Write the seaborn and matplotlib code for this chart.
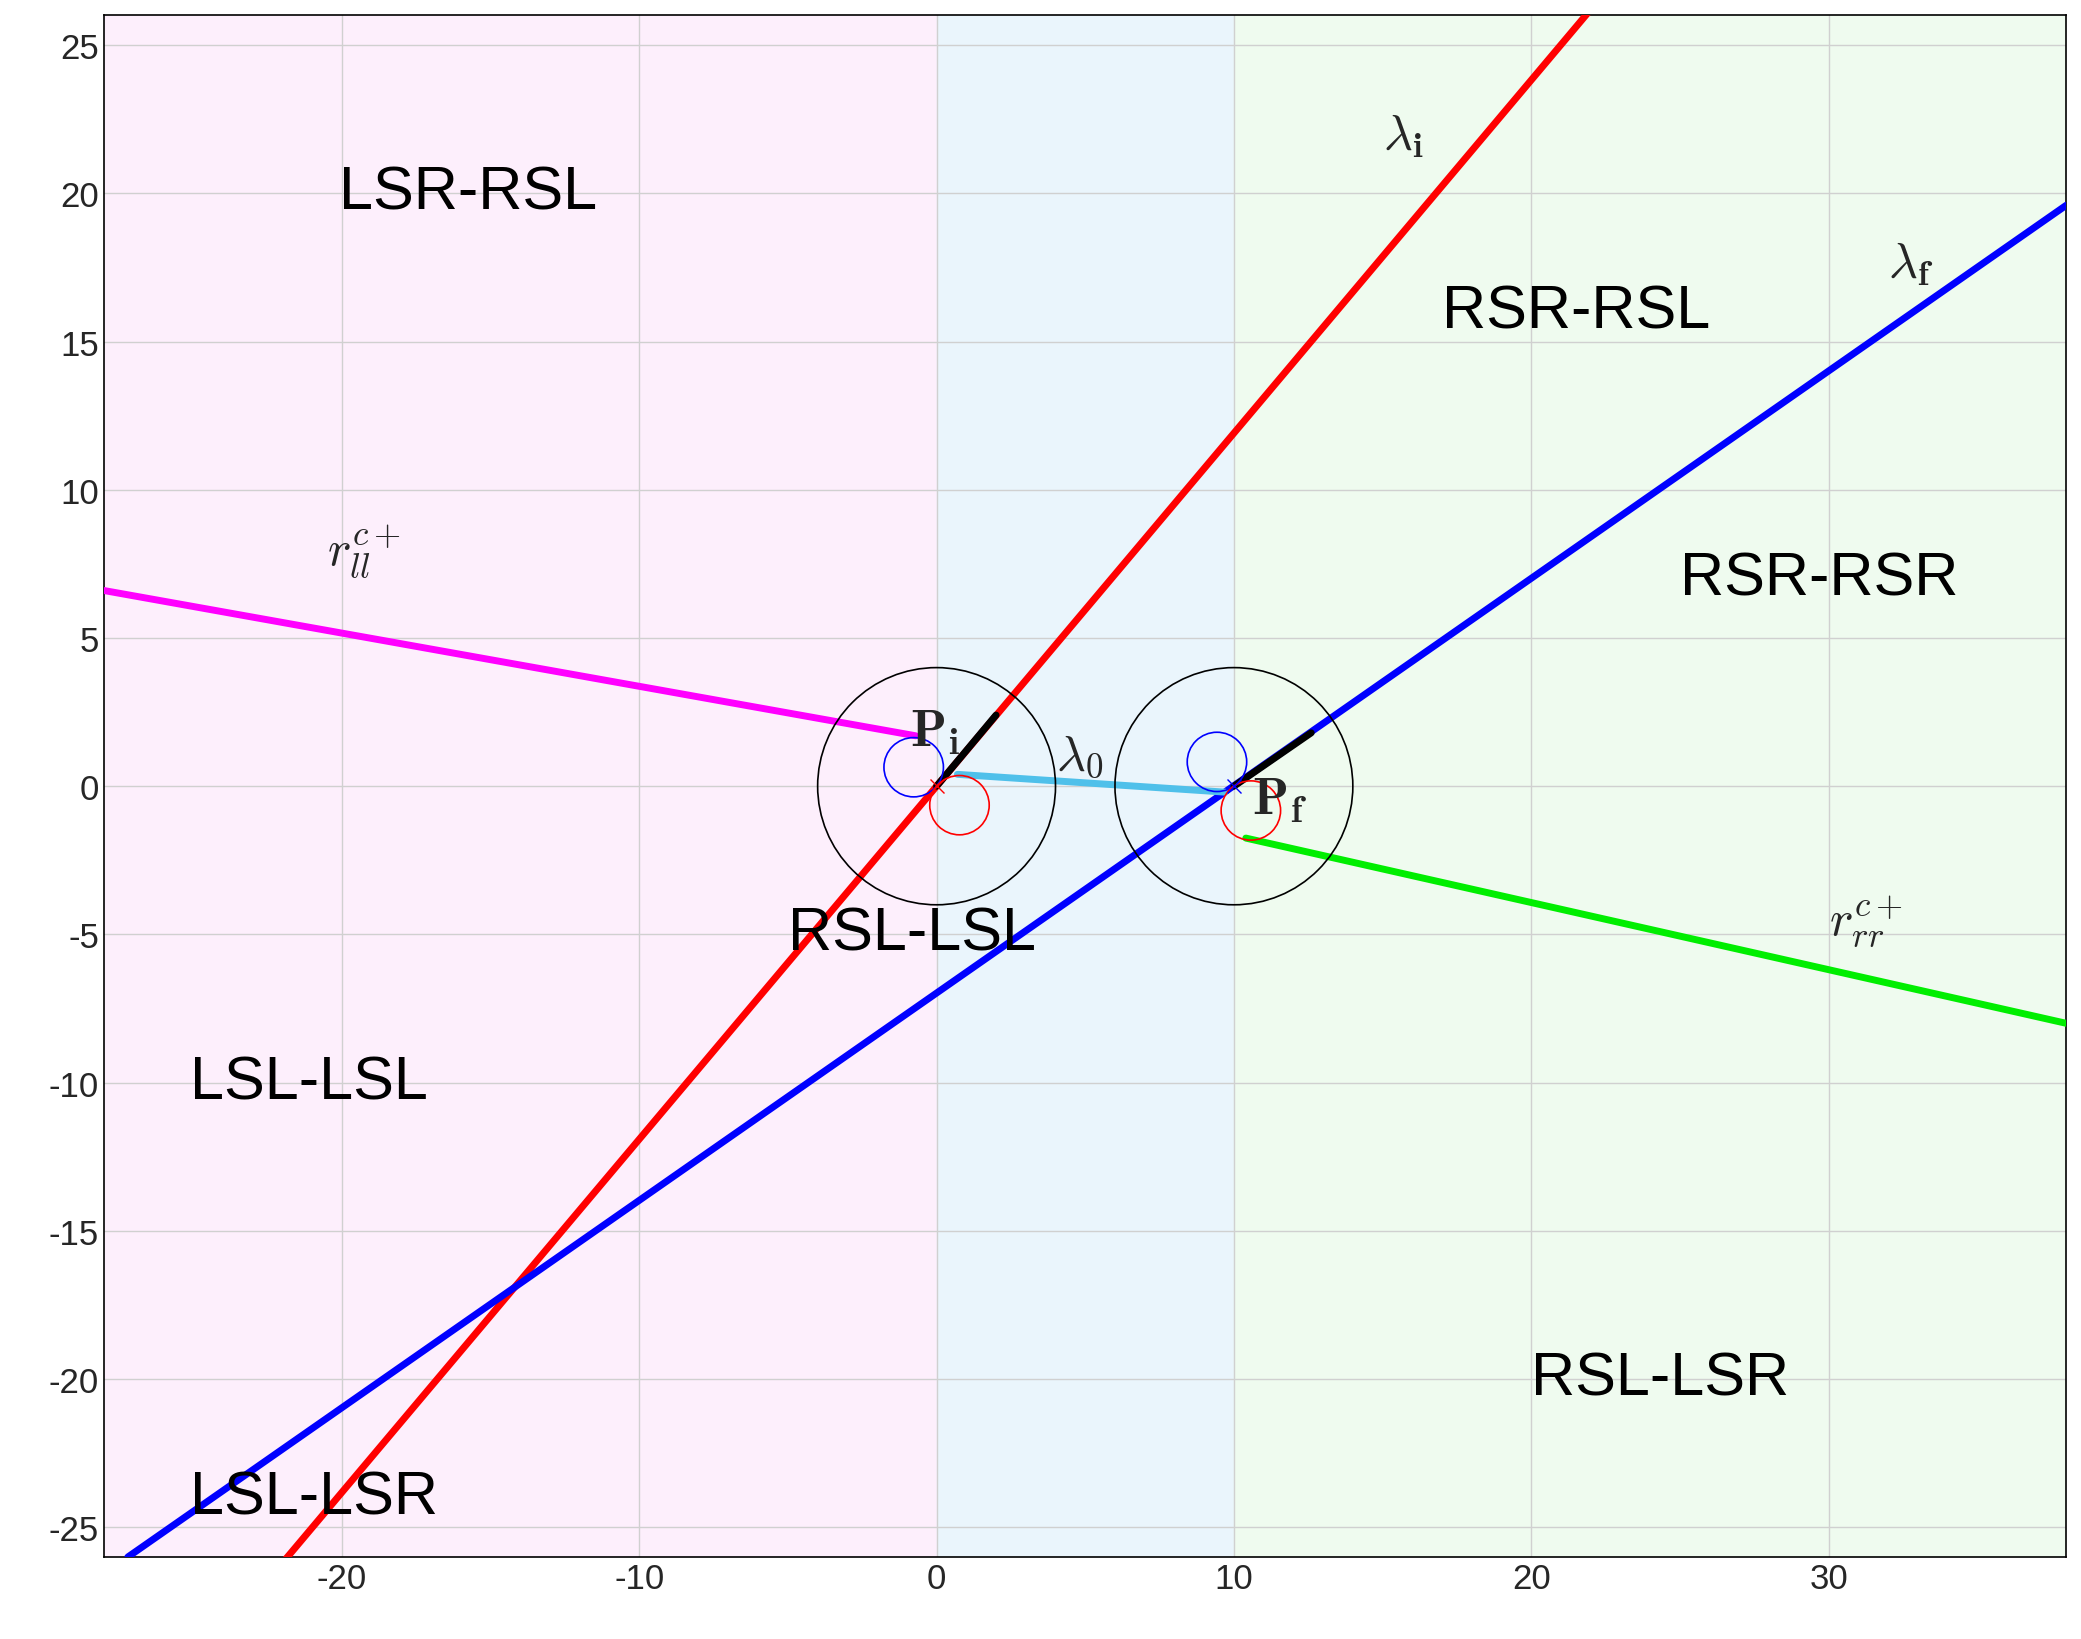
import numpy as np
import pandas as pd
import matplotlib.pyplot as plt
import seaborn as sns
from matplotlib.patches import Circle

sns.set_style("whitegrid")
plt.rcParams['font.family'] = ['Liberation Sans', 'DejaVu Sans']
plt.rcParams['mathtext.fontset'] = 'cm'
plt.rcParams['axes.unicode_minus'] = False

# line endpoints
red_x = [-22.0, 22.0]
red_y = [-26.2, 26.2]
blue_x = [-27.2, 38.0]
blue_y = [-26.0, 19.6]
magenta_x = [-28.0, -0.7]
magenta_y = [6.6, 1.7]
green_x = [10.4, 38.0]
green_y = [-1.75, -8.0]
cyan_x = [0.7, 9.7]
cyan_y = [0.4, -0.2]
black_i_x = [0.0, 2.0]
black_i_y = [0.0, 2.4]
black_f_x = [10.0, 12.6]
black_f_y = [0.0, 1.8]

big_centers = [(0, 0), (10, 0)]
big_r = 4.0
blue_centers = [(-0.77, 0.64), (9.43, 0.82)]
red_centers = [(0.77, -0.64), (10.57, -0.82)]
small_r = 1.0

region_labels = ["LSR-RSL", "RSR-RSL", "RSR-RSR", "RSL-LSL", "LSL-LSL", "RSL-LSR", "LSL-LSR"]
region_x = [-20.1, 17.0, 25.0, -5.0, -25.1, 20.0, -25.1]
region_y = [20.0, 16.0, 7.0, -5.0, -10.0, -20.0, -24.0]

fig, ax = plt.subplots(figsize=(20.81, 16.4), dpi=100)

ax.axvspan(-28, 0, color="#fdeffc", zorder=0)
ax.axvspan(0, 10, color="#eaf5fc", zorder=0)
ax.axvspan(10, 38, color="#effbef", zorder=0)

def seg(x, y, color, lw=5):
    sns.lineplot(x=x, y=y, ax=ax, color=color, linewidth=lw, sort=False, zorder=3)

seg(red_x, red_y, "#ff0000")
seg(blue_x, blue_y, "#0000ff")
seg(magenta_x, magenta_y, "#ff00ff")
seg(green_x, green_y, "#00ee00")
seg(cyan_x, cyan_y, "#4fc0ea")
seg(black_i_x, black_i_y, "black")
seg(black_f_x, black_f_y, "black")

for c in big_centers:
    ax.add_patch(Circle(c, big_r, fill=False, color="black", lw=1.2, zorder=4))
for c in blue_centers:
    ax.add_patch(Circle(c, small_r, fill=False, color="blue", lw=1.2, zorder=4))
for c in red_centers:
    ax.add_patch(Circle(c, small_r, fill=False, color="red", lw=1.2, zorder=4))
ax.plot([0], [0], marker="x", color="red", ms=10, zorder=5)
ax.plot([10], [0], marker="x", color="blue", ms=10, zorder=5)

for t, x, y in zip(region_labels, region_x, region_y):
    ax.text(x, y, t, fontsize=44, va="center", ha="left", color="black", zorder=6)

ax.text(-0.9, 1.4, r"$\mathbf{P}_\mathbf{i}$", fontsize=38, zorder=6)
ax.text(10.6, -0.9, r"$\mathbf{P}_\mathbf{f}$", fontsize=38, zorder=6)
ax.text(4.0, 0.6, r"$\lambda_0$", fontsize=36, zorder=6)
ax.text(15.0, 21.5, r"$\lambda_\mathbf{i}$", fontsize=36, zorder=6)
ax.text(32.0, 17.2, r"$\lambda_\mathbf{f}$", fontsize=36, zorder=6)
ax.text(-20.5, 7.5, r"$r_{ll}^{c+}$", fontsize=36, zorder=6)
ax.text(30.0, -5.0, r"$r_{rr}^{c+}$", fontsize=36, zorder=6)

ax.set_xlim(-28, 38)
ax.set_ylim(-26, 26)
ax.set_xticks([-20, -10, 0, 10, 20, 30])
ax.set_yticks(range(-25, 26, 5))
ax.tick_params(labelsize=25, direction="in", length=8)
ax.grid(True, color="#d0d0d0", lw=1)
for s in ax.spines.values():
    s.set_color("black")
    s.set_linewidth(1.2)

plt.subplots_adjust(left=0.05, right=0.993, top=0.99, bottom=0.05)
plt.savefig("out.png", dpi=100)
